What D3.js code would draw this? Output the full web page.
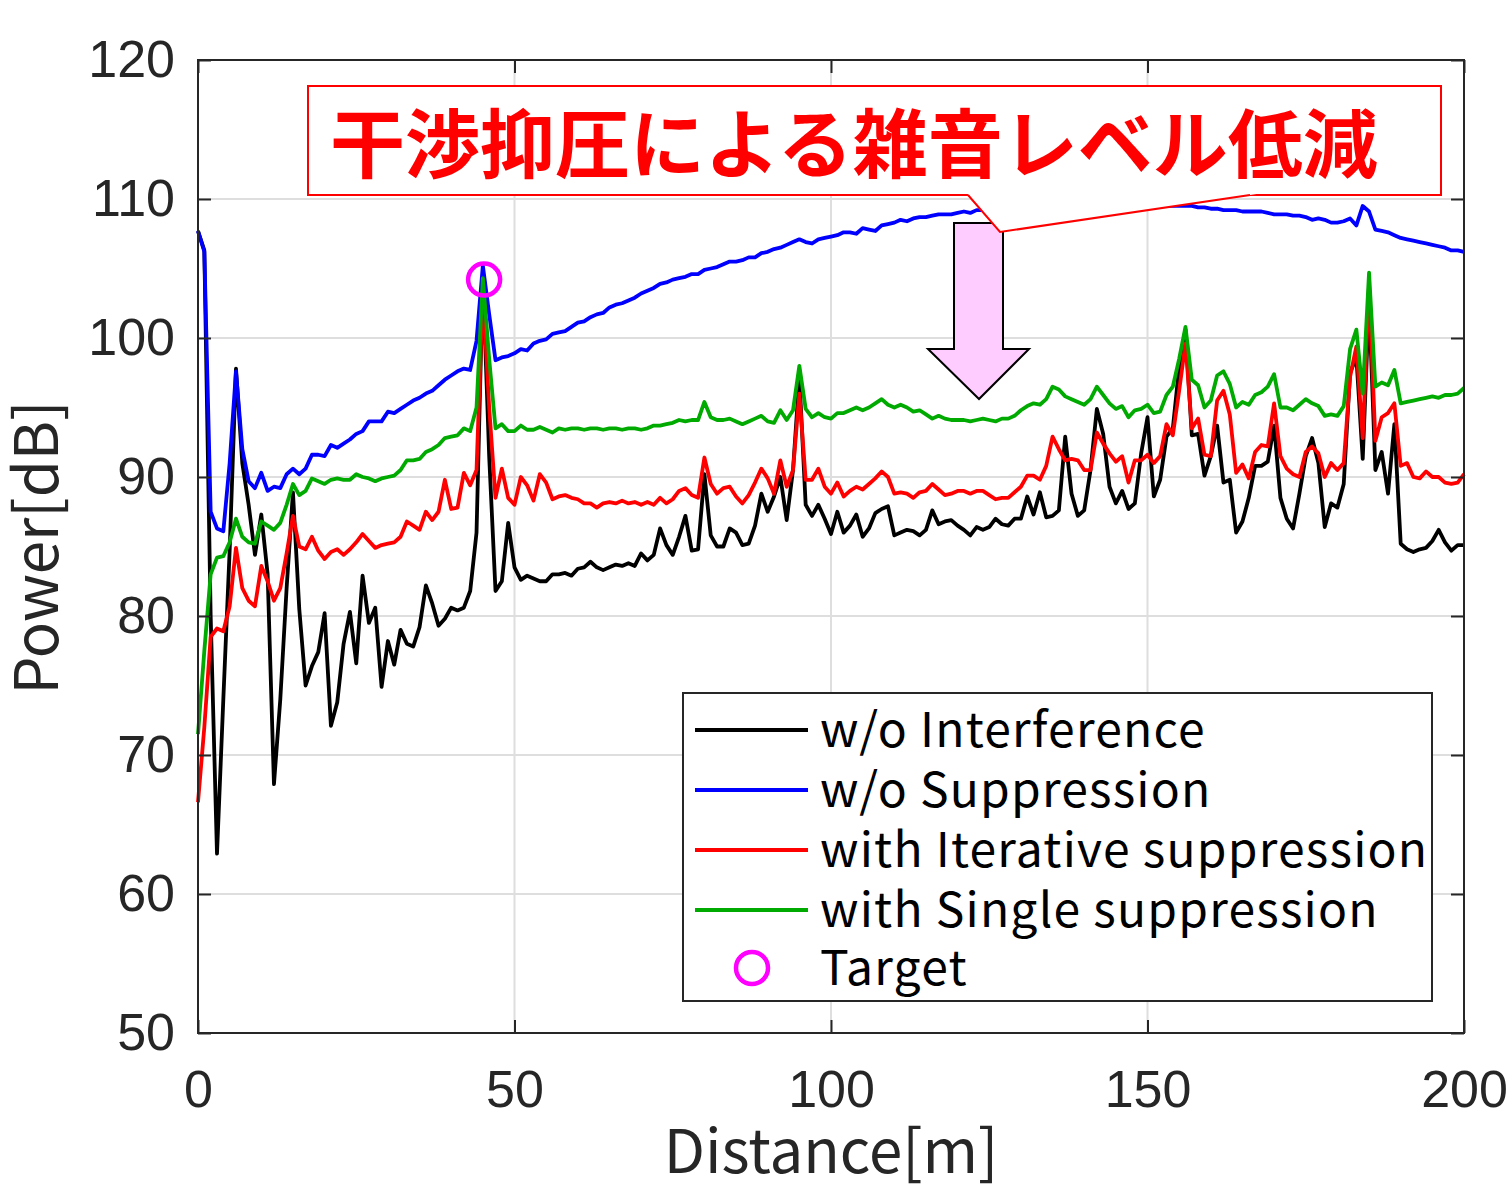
<!DOCTYPE html>
<html>
<head>
<meta charset="utf-8">
<script src="https://cdn.jsdelivr.net/npm/d3@7"></script>
<style>
  body { margin: 0; background: #fff; }
  svg { display: block; font-family: "Noto Sans CJK JP", "Noto Sans", sans-serif; }
</style>
</head>
<body>
<div id="chart"></div>
<script>
// Sampling grid (m), one sample per metre
const distanceM = d3.range(0, 201, 1);

// Power [dB]
const woInterference = [
  107.7, 106.3, 80, 62.9, 74, 84.7, 97.8, 91, 88, 84.4, 87.3, 83, 67.9, 74, 82, 88.9, 80.5, 75.0, 76.4, 77.4,
  80.2, 72.1, 73.8, 78, 80.3, 76.6, 82.9, 79.5, 80.6, 74.9, 78.2, 76.5, 79.0, 78.0, 77.8, 79.2, 82.2, 80.9, 79.3, 79.8,
  80.6, 80.4, 80.6, 81.8, 86, 104.5, 91.5, 81.8, 82.5, 86.7, 83.5, 82.6, 82.9, 82.7, 82.5, 82.5, 83.0, 83.0, 83.1, 82.9,
  83.4, 83.5, 83.9, 83.5, 83.3, 83.5, 83.7, 83.6, 83.8, 83.6, 84.5, 84.0, 84.4, 86.3, 85.1, 84.4, 85.7, 87.2, 84.7, 84.8,
  90.2, 85.8, 85.0, 85.0, 86.3, 86.0, 85.1, 85.2, 86.5, 88.8, 87.5, 88.6, 90.0, 86.9, 90.5, 97.2, 88, 87.2, 88.0, 87.0,
  85.9, 87.5, 86.0, 86.5, 87.3, 85.7, 86.3, 87.4, 87.7, 87.9, 85.8, 86.0, 86.2, 86.1, 85.8, 86.2, 87.6, 86.6, 86.8, 86.9,
  86.5, 86.2, 85.8, 86.4, 86.2, 86.4, 87.0, 86.6, 86.5, 87.0, 87.0, 88.6, 87.3, 88.9, 87.1, 87.2, 87.6, 92.9, 88.8, 87.2,
  87.6, 90.5, 94.9, 93.1, 89.3, 88.1, 89.0, 87.7, 88.1, 91.7, 94.3, 88.6, 89.8, 92.9, 93.5, 97.9, 100.6, 93, 93.1, 90.1,
  91.5, 93.7, 89.6, 89.8, 86.0, 86.8, 88.5, 90.8, 90.8, 91.1, 93.7, 88.5, 87.0, 86.3, 88.8, 91.5, 92.8, 91.0, 86.4, 88.1,
  87.8, 89.5, 97.5, 98.6, 91.3, 102.7, 90.5, 91.8, 88.8, 93.8, 85.2, 84.8, 84.6, 84.8, 84.9, 85.4, 86.2, 85.3, 84.7, 85.1,
  85.1
];

const woSuppression = [
  107.7, 106.2, 87.5, 86.3, 86.1, 91, 97.6, 92, 89.7, 89.2, 90.3, 89.0, 89.3, 89.2, 90.2, 90.6, 90.2, 90.6, 91.6, 91.6,
  91.5, 92.3, 92.1, 92.4, 92.7, 93.1, 93.3, 94.0, 94.0, 94.0, 94.7, 94.6, 94.9, 95.2, 95.5, 95.7, 96.0, 96.2, 96.6, 97.0,
  97.3, 97.6, 97.8, 97.7, 99.8, 105.2, 101.7, 98.4, 98.6, 98.7, 98.9, 99.2, 99.1, 99.6, 99.8, 99.9, 100.3, 100.4, 100.5, 100.8,
  101.1, 101.2, 101.5, 101.7, 101.8, 102.2, 102.4, 102.5, 102.7, 102.9, 103.2, 103.4, 103.6, 103.9, 104.0, 104.2, 104.3, 104.4, 104.6, 104.6,
  104.9, 105.0, 105.1, 105.3, 105.5, 105.5, 105.6, 105.8, 105.8, 106.1, 106.2, 106.4, 106.5, 106.7, 106.9, 107.1, 106.9, 106.8, 107.1, 107.2,
  107.3, 107.4, 107.6, 107.6, 107.5, 107.9, 107.8, 107.7, 108.1, 108.2, 108.3, 108.5, 108.4, 108.6, 108.7, 108.7, 108.8, 108.9, 108.9, 108.9,
  109.0, 109.1, 109.0, 109.2, 109.2, 109.3, 109.3, 109.4, 109.4, 109.4, 109.5, 109.5, 109.5, 109.6, 109.6, 109.6, 109.6, 109.6, 109.6, 109.7,
  109.7, 109.6, 109.6, 109.7, 109.6, 109.6, 109.6, 109.6, 109.5, 109.6, 109.5, 109.5, 109.5, 109.5, 109.5, 109.5, 109.5, 109.5, 109.4, 109.4,
  109.3, 109.3, 109.2, 109.2, 109.2, 109.1, 109.1, 109.1, 109.1, 109.0, 108.9, 108.9, 108.9, 108.8, 108.8, 108.7, 108.5, 108.6, 108.5, 108.3,
  108.3, 108.4, 108.6, 108.1, 109.5, 109.1, 107.8, 107.7, 107.6, 107.4, 107.2, 107.1, 107.0, 106.9, 106.8, 106.7, 106.6, 106.5, 106.3, 106.3,
  106.2
];

const iterativeSupp = [
  66.6, 72, 78.5, 79.1, 78.9, 80.7, 84.9, 82.0, 81.1, 80.7, 83.6, 82.5, 81.1, 82, 84.5, 87.2, 85.0, 84.8, 85.7, 84.7,
  84.1, 84.6, 84.8, 84.4, 84.8, 85.3, 85.9, 85.4, 84.9, 85.1, 85.2, 85.3, 85.7, 86.8, 86.5, 86.2, 87.5, 86.9, 87.5, 89.8,
  87.7, 87.8, 90.3, 89.4, 90.5, 103.5, 95, 88.5, 90.6, 88.5, 88.0, 90.0, 89.4, 88.3, 90.2, 89.6, 88.4, 88.6, 88.7, 88.5,
  88.4, 88.1, 88.1, 87.8, 88.1, 88.2, 88.1, 88.3, 88.1, 88.2, 88.0, 88.2, 88.0, 88.5, 88.1, 88.4, 89.0, 89.2, 88.7, 88.5,
  91.4, 89.5, 88.8, 89.2, 89.3, 88.6, 88.1, 88.7, 89.6, 90.6, 89.9, 88.8, 91.2, 89.3, 90.5, 96.0, 89.8, 89.8, 90.6, 89.3,
  88.8, 89.6, 88.6, 89.0, 89.3, 89.1, 89.5, 89.9, 90.4, 90.0, 88.8, 88.9, 88.8, 88.5, 88.9, 89.0, 89.5, 89.1, 88.7, 88.8,
  89.0, 89.0, 88.8, 89.0, 89.0, 88.7, 88.4, 88.5, 88.5, 88.9, 89.3, 90.1, 90.1, 89.8, 90.8, 92.9, 92.0, 91.2, 91.3, 91.2,
  90.5, 90.5, 93.2, 92.4, 91.7, 91.1, 91.5, 89.6, 91.2, 91.2, 91.6, 91.0, 91.5, 93.8, 93.0, 96.2, 99.6, 93.5, 94.2, 91.6,
  91.5, 95.5, 96.2, 94.5, 90.3, 90.9, 89.9, 91.8, 92.3, 92.2, 95.3, 91.5, 90.6, 90.2, 90.0, 91.8, 92.2, 91.7, 90.0, 91.0,
  90.5, 91.0, 97.2, 99.4, 92.8, 103.9, 92.6, 94.3, 94.6, 95.3, 90.8, 91.0, 90.0, 89.9, 90.4, 90.0, 90.0, 89.6, 89.5, 89.6,
  90.2
];

const singleSupp = [
  71.5, 77.5, 83, 84.2, 84.3, 85.3, 87.0, 85.7, 85.3, 85.2, 86.8, 86.5, 86.2, 86.7, 88, 89.5, 88.7, 89.0, 89.9, 89.7,
  89.5, 89.8, 89.9, 89.8, 89.8, 90.2, 90.0, 89.9, 89.7, 89.9, 90.0, 90.1, 90.5, 91.2, 91.2, 91.3, 91.8, 92.0, 92.3, 92.8,
  92.9, 93.0, 93.5, 93.3, 95, 104.3, 98.5, 93.5, 93.8, 93.3, 93.3, 93.7, 93.4, 93.4, 93.6, 93.4, 93.2, 93.5, 93.4, 93.5,
  93.5, 93.4, 93.5, 93.5, 93.4, 93.5, 93.5, 93.4, 93.5, 93.5, 93.4, 93.5, 93.7, 93.7, 93.8, 93.9, 94.1, 94.0, 94.1, 94.1,
  95.4, 94.3, 94.1, 94.1, 94.2, 94.0, 93.8, 94.0, 94.2, 94.4, 94.0, 93.9, 94.8, 94.1, 94.8, 98.0, 94.9, 94.3, 94.6, 94.3,
  94.2, 94.6, 94.6, 94.8, 95.0, 94.8, 95.0, 95.3, 95.6, 95.2, 95.0, 95.2, 95.0, 94.7, 94.8, 94.5, 94.2, 94.4, 94.2, 94.1,
  94.1, 94.1, 94.0, 94.1, 94.2, 94.1, 94.0, 94.2, 94.2, 94.4, 94.8, 95.1, 95.3, 95.2, 95.6, 96.5, 96.3, 95.8, 95.6, 95.4,
  95.2, 95.6, 96.5, 95.9, 95.3, 94.9, 95.1, 94.3, 94.8, 94.9, 95.2, 94.6, 94.7, 95.9, 96.5, 98.5, 100.8, 97.0, 96.6, 95.0,
  95.5, 97.3, 97.6, 96.7, 95.0, 95.4, 95.2, 95.9, 96.1, 96.5, 97.4, 95.0, 95.0, 94.8, 95.2, 95.6, 95.3, 95.1, 94.4, 94.5,
  94.4, 95.1, 99.2, 100.6, 96.0, 104.7, 96.5, 96.8, 96.6, 97.7, 95.3, 95.4, 95.5, 95.6, 95.7, 95.8, 95.7, 95.9, 95.9, 96.0,
  96.4
];

const targetPoint = { distance: 45.2, power: 104.2 };

const seriesNames = ["w/o Interference", "w/o Suppression", "with Iterative suppression", "with Single suppression"];
const seriesColors = ["#000000", "#0000ff", "#ff0000", "#00aa00"];
const seriesValues = [woInterference, woSuppression, iterativeSupp, singleSupp];

const xTicks = [0, 50, 100, 150, 200];
const yTicks = [50, 60, 70, 80, 90, 100, 110, 120];
const calloutText = "干渉抑圧による雑音レベル低減";

// Layout
const W = 1509, H = 1191;
const margin = { top: 60, right: 45, bottom: 158, left: 198 };
const width = W - margin.left - margin.right;   // 1266
const height = H - margin.top - margin.bottom;  // 973
const axisColor = "#262626";

const svg = d3.select("#chart").append("svg")
  .attr("width", W).attr("height", H)
  .attr("viewBox", `0 0 ${W} ${H}`);

const g = svg.append("g").attr("transform", `translate(${margin.left},${margin.top})`);

const x = d3.scaleLinear().domain([0, 200]).range([0, width]);
const y = d3.scaleLinear().domain([50, 120]).range([height, 0]);

// Grid
g.append("g")
  .selectAll("line.gx")
  .data(xTicks.slice(1, -1))
  .join("line")
  .attr("x1", d => x(d)).attr("x2", d => x(d))
  .attr("y1", 0).attr("y2", height)
  .attr("stroke", "#dedede").attr("stroke-width", 2);

g.append("g")
  .selectAll("line.gy")
  .data(yTicks.slice(1, -1))
  .join("line")
  .attr("x1", 0).attr("x2", width)
  .attr("y1", d => y(d)).attr("y2", d => y(d))
  .attr("stroke", "#dedede").attr("stroke-width", 2);

// Lines
const line = d3.line()
  .x((d, i) => x(distanceM[i]))
  .y(d => y(d));

seriesValues.forEach((vals, k) => {
  g.append("path")
    .datum(vals)
    .attr("fill", "none")
    .attr("stroke", seriesColors[k])
    .attr("stroke-width", 3.8)
    .attr("stroke-linejoin", "round")
    .attr("d", line);
});

// Target marker
g.append("circle")
  .attr("cx", x(targetPoint.distance))
  .attr("cy", y(targetPoint.power))
  .attr("r", 16)
  .attr("fill", "none")
  .attr("stroke", "#ff00ff")
  .attr("stroke-width", 4.5);

// Axes (box with inward ticks)
const axisFont = 52;
const xAxis = d3.axisBottom(x).tickValues(xTicks).tickSizeInner(-13).tickSizeOuter(0).tickPadding(37);
const yAxis = d3.axisLeft(y).tickValues(yTicks).tickSizeInner(-13).tickSizeOuter(0).tickPadding(23);

const gx = g.append("g").attr("transform", `translate(0,${height})`).call(xAxis);
const gy = g.append("g").call(yAxis);
[gx, gy].forEach(a => {
  a.select(".domain").remove();
  a.selectAll("line").attr("stroke", axisColor).attr("stroke-width", 2);
  a.selectAll("text").attr("fill", axisColor).style("font-size", axisFont + "px");
});

g.append("g")
  .call(d3.axisTop(x).tickValues(xTicks).tickSizeInner(-13).tickSizeOuter(0).tickFormat(""))
  .call(a => { a.select(".domain").remove(); a.selectAll("line").attr("stroke", axisColor).attr("stroke-width", 2); });
g.append("g").attr("transform", `translate(${width},0)`)
  .call(d3.axisRight(y).tickValues(yTicks).tickSizeInner(-13).tickSizeOuter(0).tickFormat(""))
  .call(a => { a.select(".domain").remove(); a.selectAll("line").attr("stroke", axisColor).attr("stroke-width", 2); });

g.append("rect")
  .attr("width", width).attr("height", height)
  .attr("fill", "none").attr("stroke", axisColor).attr("stroke-width", 2);

// Axis titles
g.append("text")
  .attr("x", width / 2).attr("y", height + 140)
  .attr("text-anchor", "middle")
  .attr("fill", axisColor)
  .style("font-size", "60px")
  .text("Distance[m]");

g.append("text")
  .attr("transform", `translate(${-140},${height / 2 + 1}) rotate(-90)`)
  .attr("text-anchor", "middle")
  .attr("fill", axisColor)
  .style("font-size", "60px")
  .text("Power[dB]");

// Pink down arrow
const arrow = [[954, 223], [1003, 223], [1003, 349], [1029, 349], [979, 399], [928, 349], [954, 349]];
svg.append("polygon")
  .attr("points", arrow.map(p => p.join(",")).join(" "))
  .attr("fill", "#ffccff")
  .attr("stroke", "#000")
  .attr("stroke-width", 2);

// Callout box with pointer
svg.append("rect")
  .attr("x", 308).attr("y", 86).attr("width", 1133).attr("height", 109)
  .attr("fill", "#fff").attr("stroke", "#ff0000").attr("stroke-width", 2);
svg.append("polygon")
  .attr("points", "966,192 1000,232 1270,192")
  .attr("fill", "#fff");
svg.append("polyline")
  .attr("points", "968,195 1000,232 1250,195")
  .attr("fill", "none").attr("stroke", "#ff0000").attr("stroke-width", 2);
svg.append("text")
  .attr("x", 330).attr("y", 172)
  .attr("fill", "#ff0000")
  .style("font-size", "75px")
  .style("font-weight", "bold")
  .text(calloutText);

// Legend
const legend = svg.append("g");
legend.append("rect")
  .attr("x", 683).attr("y", 693).attr("width", 749).attr("height", 308)
  .attr("fill", "#fff").attr("stroke", axisColor).attr("stroke-width", 2);

seriesNames.forEach((name, k) => {
  const cy = 730 + k * 60;
  legend.append("line")
    .attr("x1", 695).attr("x2", 808).attr("y1", cy).attr("y2", cy)
    .attr("stroke", seriesColors[k]).attr("stroke-width", 3.8);
  legend.append("text")
    .attr("x", 820).attr("y", cy + 17)
    .attr("fill", "#000")
    .style("font-size", "48px")
    .style("letter-spacing", "1.2px")
    .text(name);
});
legend.append("circle")
  .attr("cx", 752).attr("cy", 968).attr("r", 16)
  .attr("fill", "none").attr("stroke", "#ff00ff").attr("stroke-width", 4.5);
legend.append("text")
  .attr("x", 820).attr("y", 985)
  .attr("fill", "#000")
  .style("font-size", "48px")
  .style("letter-spacing", "1.2px")
  .text("Target");
</script>
</body>
</html>
